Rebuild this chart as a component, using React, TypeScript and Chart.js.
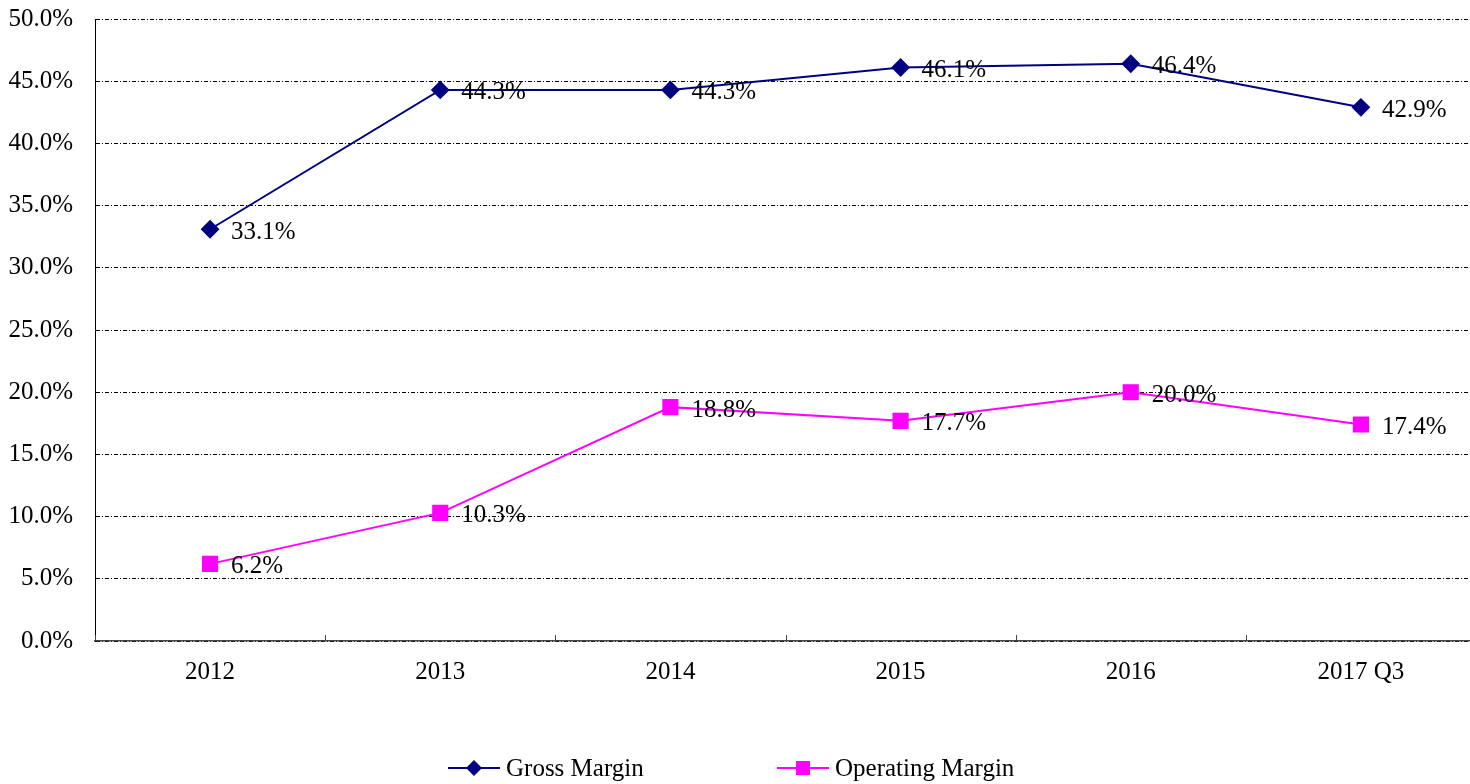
import React, { useEffect, useRef } from "react";
import { Chart, registerables } from "chart.js";

Chart.register(...registerables);

const categories = ["2012", "2013", "2014", "2015", "2016", "2017 Q3"];
const grossMargin = [33.1, 44.3, 44.3, 46.1, 46.4, 42.9];
const operatingMargin = [6.2, 10.3, 18.8, 17.7, 20.0, 17.4];
const seriesNames = ["Gross Margin", "Operating Margin"];
const seriesColors = ["#000080", "#FF00FF"];

const FONT = '"Liberation Serif", "Times New Roman", serif';
const FONT_SIZE = 25;

const overlayPlugin = {
  id: "overlay",
  afterDatasetsDraw(chart: any) {
    const ctx = chart.ctx;
    const x = chart.scales.x;
    const area = chart.chartArea;
    ctx.save();
    // inward tick marks at category boundaries
    ctx.strokeStyle = "#444";
    ctx.lineWidth = 1;
    const n = categories.length;
    const step = n > 1 ? x.getPixelForValue(1) - x.getPixelForValue(0) : 0;
    for (let i = 0; i <= n; i++) {
      const px = Math.round(x.getPixelForValue(0) - step / 2 + i * step) + 0.5;
      ctx.beginPath();
      ctx.moveTo(px, area.bottom);
      ctx.lineTo(px, area.bottom - 6);
      ctx.stroke();
    }
    // data labels
    ctx.fillStyle = "#000";
    ctx.font = `${FONT_SIZE}px ${FONT}`;
    ctx.textAlign = "left";
    ctx.textBaseline = "middle";
    chart.data.datasets.forEach((ds: any, di: number) => {
      const meta = chart.getDatasetMeta(di);
      meta.data.forEach((pt: any, i: number) => {
        ctx.fillText(ds.data[i].toFixed(1) + "%", pt.x + 21, pt.y + 3);
      });
    });
    // legend
    const legendY = 768;
    const starts = [448, 777];
    seriesNames.forEach((name, i) => {
      const sx = starts[i];
      ctx.strokeStyle = seriesColors[i];
      ctx.fillStyle = seriesColors[i];
      ctx.lineWidth = 2;
      ctx.beginPath();
      ctx.moveTo(sx, legendY);
      ctx.lineTo(sx + 52, legendY);
      ctx.stroke();
      const cx = sx + 26;
      ctx.beginPath();
      if (i === 0) {
        ctx.moveTo(cx, legendY - 8);
        ctx.lineTo(cx + 8, legendY);
        ctx.lineTo(cx, legendY + 8);
        ctx.lineTo(cx - 8, legendY);
        ctx.closePath();
      } else {
        ctx.rect(cx - 7, legendY - 7, 14, 14);
      }
      ctx.fill();
      ctx.fillStyle = "#000";
      ctx.fillText(name, sx + 58, legendY + 1);
    });
    ctx.restore();
  },
};

export default function App() {
  const ref = useRef<HTMLCanvasElement | null>(null);
  useEffect(() => {
    if (!ref.current) return;
    const chart = new Chart(ref.current, {
      type: "line",
      data: {
        labels: categories,
        datasets: [
          {
            label: seriesNames[0],
            data: grossMargin,
            borderColor: seriesColors[0],
            backgroundColor: seriesColors[0],
            borderWidth: 2,
            pointStyle: "rectRot",
            pointRadius: 8,
            pointHoverRadius: 8,
            tension: 0,
          },
          {
            label: seriesNames[1],
            data: operatingMargin,
            borderColor: seriesColors[1],
            backgroundColor: seriesColors[1],
            borderWidth: 2,
            pointStyle: "rect",
            pointRadius: 10,
            pointHoverRadius: 10,
            tension: 0,
          },
        ],
      },
      options: {
        animation: false,
        responsive: false,
        maintainAspectRatio: false,
        layout: { autoPadding: false, padding: { top: 19, right: 4, bottom: 93, left: 0 } },
        plugins: { legend: { display: false }, tooltip: { enabled: false } },
        scales: {
          x: {
            type: "category",
            offset: true,
            grid: { display: false },
            border: { display: true, color: "#444", width: 1.5 },
            ticks: {
              color: "#000",
              font: { family: FONT, size: FONT_SIZE },
              padding: 8,
              maxRotation: 0,
              autoSkip: false,
            },
            afterFit: (s: any) => {
              s.height = 50;
              s.paddingLeft = 0;
              s.paddingRight = 0;
            },
          },
          y: {
            min: 0,
            max: 50,
            grid: { display: true, color: "#000", lineWidth: 1, drawTicks: false },
            border: { display: true, color: "#000", width: 1, dash: [4, 2, 1, 2] },
            ticks: {
              stepSize: 5,
              color: "#000",
              font: { family: FONT, size: FONT_SIZE },
              padding: 22,
              callback: (v: any) => Number(v).toFixed(1) + "%",
            },
            afterFit: (s: any) => {
              s.width = 95;
              s.paddingTop = 0;
              s.paddingBottom = 0;
            },
          },
        },
      },
      plugins: [overlayPlugin],
    } as any);
    return () => chart.destroy();
  }, []);
  return (
    <div style={{ position: "fixed", left: 0, top: 0, width: 1470, height: 784, overflow: "hidden", background: "#fff" }}>
      <canvas ref={ref} width={1480} height={784} style={{ display: "block", width: 1480, height: 784 }} />
    </div>
  );
}
